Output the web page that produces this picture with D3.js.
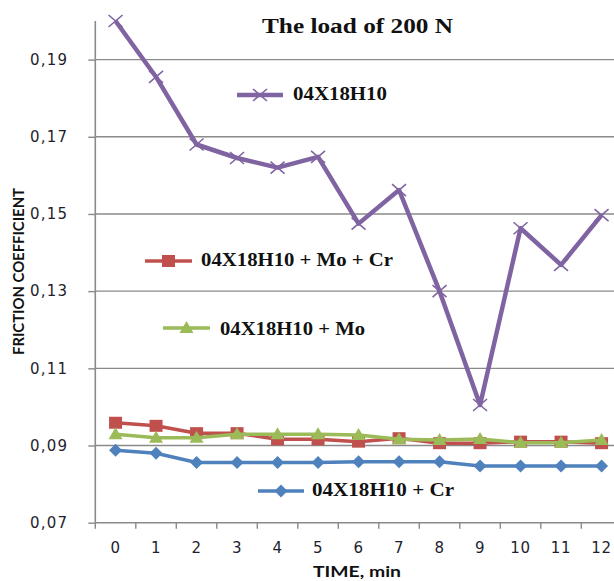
<!DOCTYPE html>
<html>
<head>
<meta charset="utf-8">
<script src="https://cdn.jsdelivr.net/npm/d3@7"></script>
<style>
  html, body { margin: 0; padding: 0; background: #fff; }
  svg { display: block; }
</style>
</head>
<body>
<svg id="chart" width="614" height="581"></svg>
<script>
// Friction coefficient vs. time under a 200 N load
const times = [0, 1, 2, 3, 4, 5, 6, 7, 8, 9, 10, 11, 12];
const yTicks = [0.07, 0.09, 0.11, 0.13, 0.15, 0.17, 0.19];

const base      = [0.200, 0.1855, 0.168, 0.1645, 0.162, 0.1648, 0.1475, 0.1562, 0.130, 0.1005, 0.1463, 0.1368, 0.1497];
const withMoCr  = [0.0959, 0.0951, 0.0932, 0.0932, 0.0916, 0.0916, 0.0910, 0.0919, 0.0906, 0.0906, 0.0910, 0.0910, 0.0906];
const withMo    = [0.0929, 0.0920, 0.0920, 0.0929, 0.0929, 0.0929, 0.0927, 0.0916, 0.0914, 0.0917, 0.0907, 0.0907, 0.0914];
const withCr    = [0.0888, 0.0880, 0.0856, 0.0856, 0.0856, 0.0856, 0.0858, 0.0858, 0.0858, 0.0847, 0.0847, 0.0847, 0.0847];

const seriesNames = ["04X18H10", "04X18H10 + Mo + Cr", "04X18H10 + Mo", "04X18H10 + Cr"];

const series = [
  { name: seriesNames[0], values: base,     color: "#8064A2", marker: "x",        width: 4.5 },
  { name: seriesNames[1], values: withMoCr, color: "#C0504D", marker: "square",   width: 3.5 },
  { name: seriesNames[2], values: withMo,   color: "#9BBB59", marker: "triangle", width: 3.5 },
  { name: seriesNames[3], values: withCr,   color: "#4F81BD", marker: "diamond",  width: 3.5 }
];

// legend placement inside the plot area
const legendPos = [
  { x1: 237, x2: 283, y: 95,  tx: 293, ty: 100, tl: 94 },
  { x1: 145, x2: 192, y: 261, tx: 201, ty: 266, tl: 192 },
  { x1: 163, x2: 210, y: 328, tx: 220, ty: 335, tl: 145 },
  { x1: 258, x2: 304, y: 491, tx: 312, ty: 496, tl: 142 }
];

const svg = d3.select("#chart");
const W = 614, H = 581;
const plotLeft = 95.3, plotRight = 621.8, plotTop = 21, plotBottom = 522.7;

const x = d3.scaleBand().domain(times).range([plotLeft, plotRight]).padding(0);
const cx = d => x(d) + x.bandwidth() / 2;
const y = d3.scaleLinear().domain([0.07, 0.20]).range([plotBottom, plotTop]);

const gridColor = "#8a8a8a";

// horizontal gridlines
svg.append("g")
  .selectAll("line")
  .data(yTicks.slice(1))
  .join("line")
  .attr("x1", plotLeft).attr("x2", W)
  .attr("y1", d => y(d)).attr("y2", d => y(d))
  .attr("stroke", gridColor).attr("stroke-width", 1.4);

// y axis
const yAxis = svg.append("g")
  .attr("transform", `translate(${plotLeft},0)`)
  .call(d3.axisLeft(y).tickValues(yTicks).tickSize(7).tickPadding(20)
    .tickFormat(d => d3.format(".2f")(d).replace(".", ",")));
yAxis.select(".domain").attr("stroke", gridColor).attr("stroke-width", 1.6)
  .attr("d", `M0,${plotTop}V${plotBottom}`);
yAxis.selectAll(".tick line").attr("stroke", gridColor).attr("stroke-width", 1.4);
yAxis.selectAll(".tick text")
  .attr("font-family", "DejaVu Sans").attr("font-size", 15).attr("fill", "#1e1e2e")
  .attr("letter-spacing", 1.2);

// x axis
const xAxis = svg.append("g")
  .attr("transform", `translate(0,${plotBottom})`)
  .call(d3.axisBottom(x).tickSize(0).tickPadding(24));
xAxis.select(".domain").attr("stroke", gridColor).attr("stroke-width", 1.6)
  .attr("d", `M${plotLeft},0H${W}`);
xAxis.selectAll(".tick text")
  .attr("font-family", "DejaVu Sans").attr("font-size", 15).attr("fill", "#1e1e2e")
  .attr("letter-spacing", 0.8)
  .attr("dy", "0.45em");
// tick marks on band boundaries
svg.append("g")
  .selectAll("line")
  .data(times)
  .join("line")
  .attr("x1", d => x(d)).attr("x2", d => x(d))
  .attr("y1", plotBottom).attr("y2", plotBottom + 6)
  .attr("stroke", gridColor).attr("stroke-width", 1.4);

// axis titles
svg.append("text")
  .attr("x", 357).attr("y", 577).attr("text-anchor", "middle")
  .attr("font-family", "Lato").attr("font-weight", "bold").attr("font-size", 15)
  .attr("fill", "#111").attr("textLength", 88).attr("lengthAdjust", "spacingAndGlyphs")
  .text("TIME, min");

svg.append("text")
  .attr("transform", "translate(24,271.5) rotate(-90)")
  .attr("text-anchor", "middle")
  .attr("font-family", "Lato").attr("font-weight", "bold").attr("font-size", 15)
  .attr("fill", "#111").attr("textLength", 167).attr("lengthAdjust", "spacingAndGlyphs")
  .text("FRICTION COEFFICIENT");

// title
svg.append("text")
  .attr("x", 262).attr("y", 33)
  .attr("font-family", "Liberation Serif").attr("font-weight", "bold").attr("font-size", 20)
  .attr("fill", "#111").attr("textLength", 191).attr("lengthAdjust", "spacingAndGlyphs")
  .text("The load of 200 N");

// marker drawing
function drawMarker(g, type, color) {
  if (type === "x") {
    g.append("path")
      .attr("d", "M-7,-6L7,6M-7,6L7,-6")
      .attr("stroke", color).attr("stroke-width", 1.6).attr("fill", "none");
  } else if (type === "square") {
    g.append("rect").attr("x", -6.5).attr("y", -6).attr("width", 13).attr("height", 12)
      .attr("fill", color);
  } else if (type === "triangle") {
    g.append("path").attr("d", "M0,-7L7,5L-7,5Z").attr("fill", color);
  } else if (type === "diamond") {
    g.append("path").attr("d", "M0,-6.5L6.5,0L0,6.5L-6.5,0Z").attr("fill", color);
  }
}

const line = d3.line().x((d, i) => cx(times[i])).y(d => y(d));

// series, drawn so that later ones sit on top
const order = [3, 1, 2, 0];
order.forEach(si => {
  const s = series[si];
  const g = svg.append("g");
  g.append("path")
    .datum(s.values)
    .attr("d", line)
    .attr("fill", "none")
    .attr("stroke", s.color)
    .attr("stroke-width", s.width)
    .attr("stroke-linejoin", "round");
  g.selectAll("g.m")
    .data(s.values)
    .join("g")
    .attr("class", "m")
    .attr("transform", (d, i) => `translate(${cx(times[i])},${y(d)})`)
    .each(function () { drawMarker(d3.select(this), s.marker, s.color); });
});

// legends
series.forEach((s, i) => {
  const p = legendPos[i];
  const g = svg.append("g");
  g.append("line")
    .attr("x1", p.x1).attr("x2", p.x2).attr("y1", p.y).attr("y2", p.y)
    .attr("stroke", s.color).attr("stroke-width", s.width);
  const m = g.append("g").attr("transform", `translate(${(p.x1 + p.x2) / 2},${p.y})`);
  drawMarker(m, s.marker, s.color);
  g.append("text")
    .attr("x", p.tx).attr("y", p.ty)
    .attr("font-family", "Liberation Serif").attr("font-weight", "bold").attr("font-size", 18)
    .attr("fill", "#111").attr("textLength", p.tl).attr("lengthAdjust", "spacingAndGlyphs")
    .text(s.name);
});
</script>
</body>
</html>
